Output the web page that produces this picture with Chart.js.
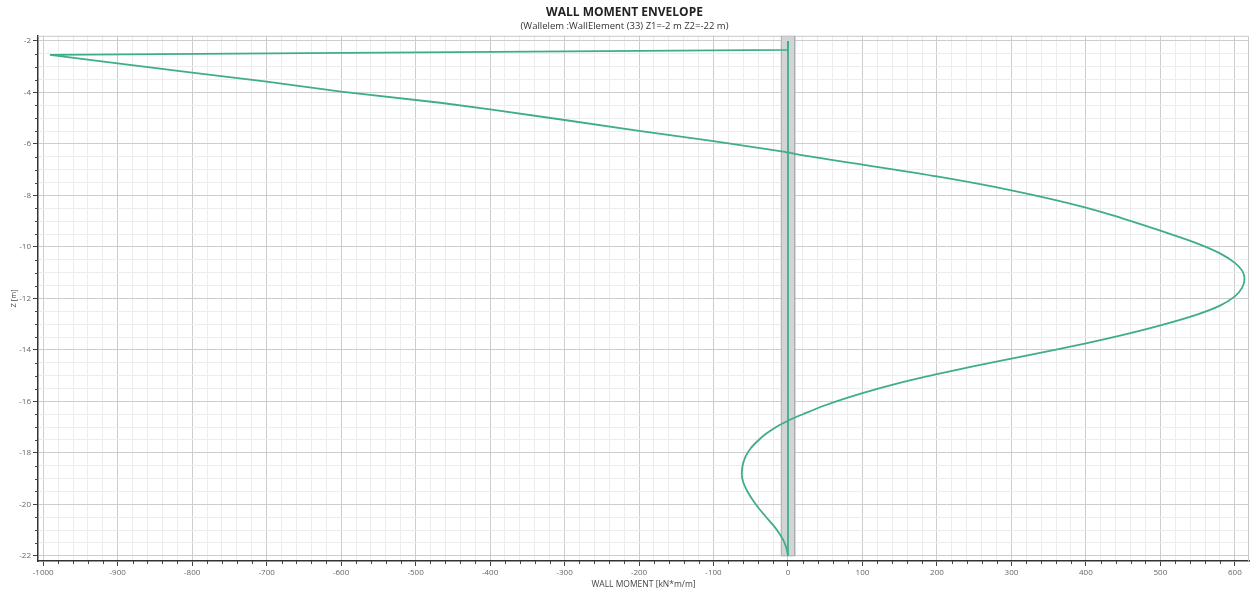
<!DOCTYPE html>
<html>
<head>
<meta charset="utf-8">
<title>Wall moment envelope</title>
<script src="https://cdn.jsdelivr.net/npm/chart.js@4.4.1/dist/chart.umd.min.js"></script>
<style>
  html, body { margin:0; padding:0; background:#fff; }
  #wrap { width:1255px; height:593px; position:relative; }
</style>
</head>
<body>
<div id="wrap"><canvas id="momentChart"></canvas></div>
<script>
// envelope values: moment [kN*m/m] vs Z [m]
var minMoment = [0, 0, -991, -900, -800, -700, -600, -467, -400, -300, -200, -100, -4, 0, 0];
var minZ      = [-2, -2.35, -2.54, -2.87, -3.23, -3.58, -3.97, -4.40, -4.66, -5.07, -5.49, -5.89, -6.31, -6.35, -22];

var maxMoment = [0, 0, 6.7, 100, 200, 300, 400, 450, 500, 550, 580, 600, 610, 613,
                 610, 600, 580, 550, 500, 450, 400, 350, 300, 250, 200, 150, 100, 50, 20, 0,
                 -10, -20, -30, -40, -50, -57, -61, -62,
                 -60, -55, -48, -40, -30, -21, -13, -7, -3, -0.5, 0];
var maxZ      = [-2, -6.3, -6.37, -6.8, -7.26, -7.8, -8.47, -8.9, -9.37, -9.87, -10.25, -10.62, -10.93, -11.25,
                 -11.57, -11.92, -12.28, -12.62, -13.05, -13.42, -13.75, -14.05, -14.34, -14.63, -14.94, -15.28, -15.68, -16.15, -16.5, -16.75,
                 -16.9, -17.07, -17.27, -17.52, -17.82, -18.15, -18.5, -18.85,
                 -19.15, -19.47, -19.8, -20.12, -20.47, -20.77, -21.07, -21.35, -21.62, -21.9, -22];

// wall section (grey band)
var wallX = [-9, 9, 9, -9, -9];
var wallZ = [-1.8, -1.8, -22, -22, -1.8];

// labelled ticks
var xTickLabels = [-1000, -900, -800, -700, -600, -500, -400, -300, -200, -100, 0, 100, 200, 300, 400, 500, 600];
var zTickLabels = [-2, -4, -6, -8, -10, -12, -14, -16, -18, -20, -22];
var xMinorStep = 20;
var zMinorStep = 0.5;

var FONT = "'Open Sans', 'Noto Sans', sans-serif";
var GREEN = "#3fae88";

function toPoints(xs, zs){
	var pts = [];
	for (var i = 0; i < xs.length; i++) pts.push({x: xs[i], y: zs[i]});
	return pts;
};

// all tick values (minor + major) between first and last label
function tickValues(labels, step){
	var lo = Math.min.apply(null, labels), hi = Math.max.apply(null, labels);
	var out = [];
	var n = Math.round((hi - lo) / step);
	for (var i = 0; i <= n; i++) out.push({value: +(lo + i * step).toFixed(4)});
	return out;
};

function isLabel(labels, v){
	for (var i = 0; i < labels.length; i++) if (Math.abs(labels[i] - v) < 1e-6) return true;
	return false;
};

// short minor tick marks + light top/right frame
var minorTicks = {
	id: 'minorTicks',
	beforeDatasetsDraw: function(chart){
		var a = chart.chartArea, ctx = chart.ctx;
		ctx.save();
		ctx.strokeStyle = '#c9c9c9';
		ctx.lineWidth = 1;
		ctx.beginPath();
		ctx.moveTo(a.left, a.top + 0.5); ctx.lineTo(a.right - 0.5, a.top + 0.5); ctx.lineTo(a.right - 0.5, a.bottom);
		ctx.stroke();
		ctx.restore();
	},
	afterDraw: function(chart){
		var ctx = chart.ctx, xs = chart.scales.x, ys = chart.scales.y;
		ctx.save();
		ctx.strokeStyle = '#444';
		ctx.lineWidth = 1;
		ctx.beginPath();
		xs.ticks.forEach(function(t){
			if (isLabel(xTickLabels, t.value)) return;
			var px = Math.round(xs.getPixelForValue(t.value)) + 0.5;
			ctx.moveTo(px, xs.top); ctx.lineTo(px, xs.top + 3);
		});
		ys.ticks.forEach(function(t){
			if (isLabel(zTickLabels, t.value)) return;
			var py = Math.round(ys.getPixelForValue(t.value)) + 0.5;
			ctx.moveTo(ys.right - 3, py); ctx.lineTo(ys.right, py);
		});
		ctx.stroke();
		ctx.restore();
	}
};

function renderChart(){
	var ctx = document.querySelector('#momentChart').getContext('2d');
	new Chart(ctx, {
		type: 'line',
		data: {
			datasets: [{
				label: 'Min',
				data: toPoints(minMoment, minZ),
				borderColor: GREEN,
				borderWidth: 1.8,
				pointRadius: 0,
				fill: false,
				tension: 0
			}, {
				label: 'Max',
				data: toPoints(maxMoment, maxZ),
				borderColor: GREEN,
				borderWidth: 1.8,
				pointRadius: 0,
				fill: false,
				cubicInterpolationMode: 'monotone'
			}, {
				label: 'Wall',
				data: toPoints(wallX, wallZ),
				borderColor: '#a9adb2',
				borderWidth: 1,
				backgroundColor: '#d2d4d7',
				fill: 'shape',
				pointRadius: 0,
				tension: 0
			}]
		},
		options: {
			indexAxis: 'y',
			responsive: true,
			maintainAspectRatio: false,
			animation: false,
			layout: { padding: { top: 0, right: 6, bottom: 0, left: 0 } },
			plugins: {
				legend: { display: false },
				tooltip: { enabled: false },
				title: {
					display: true,
					text: 'WALL MOMENT ENVELOPE',
					color: '#222',
					font: { family: FONT, size: 12, weight: 'bold' },
					padding: { top: 5, bottom: 1 }
				},
				subtitle: {
					display: true,
					text: '(Wallelem :WallElement (33) Z1=-2 m Z2=-22 m)',
					color: '#333',
					font: { family: FONT, size: 9.5 },
					padding: { top: 0, bottom: 4 }
				}
			},
			scales: {
				x: {
					type: 'linear',
					min: -1007,
					max: 619,
					afterBuildTicks: function(s){ s.ticks = tickValues(xTickLabels, xMinorStep); },
					afterFit: function(s){ s.height = 32; },
					border: { color: '#333', width: 1.5 },
					grid: {
						color: function(c){ return c.tick && isLabel(xTickLabels, c.tick.value) ? '#cdcdcd' : '#ececec'; },
						tickColor: function(c){ return c.tick && isLabel(xTickLabels, c.tick.value) ? '#444' : 'rgba(0,0,0,0)'; },
						tickLength: 5
					},
					ticks: {
						autoSkip: false,
						maxRotation: 0,
						padding: 2,
						color: '#666',
						font: { family: FONT, size: 8 },
						callback: function(v){ return isLabel(xTickLabels, v) ? String(v) : ''; }
					},
					title: {
						display: true,
						text: 'WALL MOMENT [kN*m/m]',
						color: '#444',
						font: { family: FONT, size: 8.5 },
						padding: { top: 0, bottom: 3 }
					}
				},
				y: {
					type: 'linear',
					min: -22.2,
					max: -1.8,
					afterBuildTicks: function(s){ s.ticks = tickValues(zTickLabels, zMinorStep); },
					afterFit: function(s){ s.width = 38; },
					border: { color: '#333', width: 1.5 },
					grid: {
						color: function(c){ return c.tick && isLabel(zTickLabels, c.tick.value) ? '#cdcdcd' : '#ececec'; },
						tickColor: function(c){ return c.tick && isLabel(zTickLabels, c.tick.value) ? '#444' : 'rgba(0,0,0,0)'; },
						tickLength: 5
					},
					ticks: {
						autoSkip: false,
						padding: 2,
						color: '#666',
						font: { family: FONT, size: 8 },
						callback: function(v){ return isLabel(zTickLabels, v) ? String(v) : ''; }
					},
					title: {
						display: true,
						text: 'Z [m]',
						color: '#444',
						font: { family: FONT, size: 7.5 },
						padding: { top: 9, bottom: 0 }
					}
				}
			}
		},
		plugins: [minorTicks]
	});
};

renderChart();
</script>
</body>
</html>
